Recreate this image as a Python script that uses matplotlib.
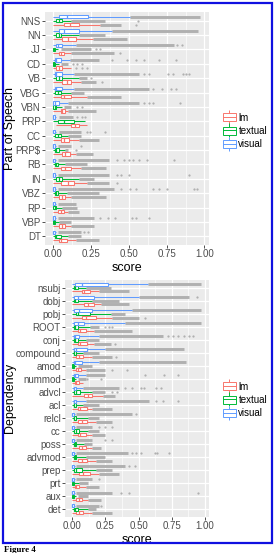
import numpy as np
import matplotlib
matplotlib.use("Agg")
import matplotlib.pyplot as plt
from matplotlib.patches import Rectangle, Patch
from matplotlib.lines import Line2D

# part of speech panel
pos_cats = ["NNS", "NN", "JJ", "CD", "VB", "VBG", "VBN", "PRP", "CC", "PRP$",
            "RB", "IN", "VBZ", "RP", "VBP", "DT"]

# [whisker low, q1, median, q3, whisker high]
pos_visual_box = [[0, 0.04, 0.09, 0.23, 0.51], [0, 0.04, 0.07, 0.17, 0.39],
                  [0, 0.02, 0.03, 0.06, 0.15], [0, 0.01, 0.02, 0.05, 0.11],
                  [0, 0.01, 0.02, 0.06, 0.14], [0, 0.01, 0.02, 0.06, 0.14],
                  [0, 0.0, 0.01, 0.04, 0.10], [0, 0, 0, 0.01, 0.02],
                  [0, 0, 0, 0.01, 0.02], [0, 0, 0, 0.01, 0.02],
                  [0, 0, 0, 0.01, 0.02], [0, 0, 0, 0.01, 0.02],
                  [0, 0, 0, 0.01, 0.02], [0, 0, 0, 0.01, 0.02],
                  [0, 0, 0, 0.01, 0.02], [0, 0, 0, 0.01, 0.02]]
pos_visual_dense = [[0.51, 0.97], [0.39, 0.96], [0.15, 0.80], [0.11, 0.30],
                    [0.14, 0.57], [0.14, 0.63], [0.10, 0.57], [0.04, 0.13],
                    [0.04, 0.18], [0.03, 0.12], [0.03, 0.37], [0.03, 0.37],
                    [0.03, 0.40], [0.03, 0.15], [0.03, 0.27], [0.03, 0.18]]
pos_visual_pts = [[], [], [0.82, 0.85], [0.39, 0.49, 0.55, 0.60, 0.70, 0.81],
                  [0.60, 0.63, 0.76, 0.79, 0.86, 0.88, 0.90],
                  [0.66, 0.72, 0.78, 0.81], [0.60, 0.63, 0.66, 0.84],
                  [0.16, 0.19, 0.21], [0.22, 0.24, 0.34], [0.18],
                  [0.42, 0.47, 0.50, 0.53, 0.57, 0.62, 0.80], [0.42, 0.45, 0.50, 0.90],
                  [0.45, 0.51, 0.55, 0.66, 0.70, 0.75, 0.93, 0.95], [],
                  [0.31, 0.36, 0.41, 0.52, 0.55, 0.63], [0.20, 0.23]]

pos_textual_box = [[0, 0.02, 0.04, 0.06, 0.12], [0, 0.02, 0.035, 0.05, 0.17],
                   [0, 0, 0.005, 0.01, 0.03], [0, 0, 0.005, 0.01, 0.04],
                   [0, 0.02, 0.035, 0.06, 0.17], [0, 0.01, 0.03, 0.05, 0.12],
                   [0, 0, 0.01, 0.02, 0.06], [0, 0.03, 0.07, 0.14, 0.21],
                   [0, 0.01, 0.03, 0.05, 0.10], [0, 0.01, 0.02, 0.04, 0.08],
                   [0, 0.01, 0.02, 0.03, 0.08], [0, 0.02, 0.04, 0.06, 0.17],
                   [0, 0.01, 0.02, 0.03, 0.09], [0, 0, 0.01, 0.02, 0.06],
                   [0, 0, 0.005, 0.01, 0.04], [0, 0.01, 0.02, 0.05, 0.10]]
pos_textual_dense = [[0.12, 0.34], [0.17, 0.34], [0.05, 0.25], [0.05, 0.10],
                     [0.17, 0.22], [0.12, 0.20], [0.07, 0.12], None,
                     [0.10, 0.18], [0.08, 0.10], [0.08, 0.22], [0.17, 0.27],
                     [0.09, 0.30], [0.06, 0.16], [0.04, 0.12], [0.10, 0.18]]
pos_textual_pts = [[0.56], [], [0.28, 0.31], [0.13, 0.16, 0.19], [0.25], [],
                   [0.16, 0.19], [], [], [0.15], [], [], [], [], [], []]

pos_lm_box = [[0, 0.07, 0.11, 0.17, 0.31], [0, 0.06, 0.10, 0.15, 0.26],
              [0, 0.035, 0.05, 0.07, 0.12], [0, 0.02, 0.04, 0.06, 0.12],
              [0, 0.06, 0.09, 0.12, 0.18], [0, 0.05, 0.07, 0.12, 0.22],
              [0, 0.05, 0.06, 0.08, 0.10], [0.02, 0.12, 0.145, 0.17, 0.22],
              [0, 0.05, 0.07, 0.105, 0.17], [0, 0.06, 0.08, 0.11, 0.15],
              [0, 0.05, 0.08, 0.12, 0.18], [0, 0.05, 0.10, 0.14, 0.22],
              [0, 0.04, 0.06, 0.08, 0.12], [0, 0.03, 0.05, 0.07, 0.10],
              [0, 0.035, 0.06, 0.08, 0.12], [0, 0.035, 0.05, 0.09, 0.15]]
pos_lm_dense = [[0.31, 0.45], [0.26, 0.49], [0.12, 0.40], None, [0.18, 0.28],
                [0.22, 0.45], [0.10, 0.28], None, [0.17, 0.30], [0.15, 0.26],
                [0.18, 0.35], [0.22, 0.37], [0.12, 0.35], [0.10, 0.17],
                [0.12, 0.27], [0.15, 0.30]]
pos_lm_pts = [[0.55], [], [0.44], [0.15, 0.19, 0.22], [0.32], [], [], [], [], [],
              [0.27], [0.42], [], [], [], []]

# dependency panel
dep_cats = ["nsubj", "dobj", "pobj", "ROOT", "conj", "compound", "amod", "nummod",
            "advcl", "acl", "relcl", "cc", "poss", "advmod", "prep", "prt", "aux", "det"]

dep_visual_box = [[0, 0.02, 0.075, 0.27, 0.57], [0, 0.015, 0.045, 0.165, 0.50],
                  [0, 0.015, 0.05, 0.15, 0.45], [0, 0.015, 0.04, 0.09, 0.40],
                  [0, 0.01, 0.02, 0.05, 0.20], [0, 0.01, 0.03, 0.11, 0.25],
                  [0, 0.01, 0.02, 0.07, 0.20], [0, 0.01, 0.02, 0.04, 0.10],
                  [0, 0.01, 0.015, 0.03, 0.08], [0, 0.01, 0.015, 0.03, 0.10],
                  [0, 0, 0, 0.01, 0.02], [0, 0, 0, 0.01, 0.02], [0, 0, 0, 0.01, 0.02],
                  [0, 0, 0, 0.01, 0.02], [0, 0, 0, 0.01, 0.02], [0, 0, 0, 0.01, 0.02],
                  [0, 0, 0, 0.01, 0.02], [0, 0, 0, 0.01, 0.02]]
dep_visual_dense = [[0.57, 0.97], [0.50, 0.88], [0.45, 0.97], [0.40, 0.97],
                    [0.20, 0.68], [0.25, 0.84], [0.20, 0.86], [0.10, 0.25],
                    [0.08, 0.35], [0.10, 0.58], [0.03, 0.45], [0.03, 0.15],
                    [0.03, 0.15], [0.03, 0.42], [0.03, 0.40], [0.03, 0.15],
                    [0.03, 0.30], [0.03, 0.20]]
dep_visual_pts = [[], [0.94], [], [], [0.72, 0.76, 0.80, 0.84, 0.88, 0.91], [], [],
                  [0.55, 0.69, 0.80], [0.40, 0.45, 0.52, 0.54, 0.63, 0.67],
                  [0.63, 0.68, 0.80], [0.48], [0.20, 0.25, 0.30], [0.25, 0.30],
                  [0.45, 0.48, 0.52, 0.62, 0.64, 0.73], [0.43, 0.47], [0.20],
                  [0.37, 0.43, 0.95], [0.22]]

dep_textual_box = [[0, 0.01, 0.02, 0.04, 0.10], [0, 0.01, 0.02, 0.04, 0.15],
                   [0, 0.03, 0.045, 0.13, 0.29], [0, 0.01, 0.02, 0.04, 0.13],
                   [0, 0.01, 0.02, 0.04, 0.10], [0, 0.01, 0.015, 0.03, 0.08],
                   [0, 0, 0.005, 0.01, 0.03], [0, 0, 0.005, 0.01, 0.03],
                   [0, 0.01, 0.03, 0.06, 0.15], [0, 0.01, 0.015, 0.03, 0.08],
                   [0, 0.01, 0.015, 0.03, 0.12], [0, 0.01, 0.03, 0.05, 0.12],
                   [0, 0.01, 0.02, 0.03, 0.09], [0, 0.01, 0.02, 0.03, 0.10],
                   [0, 0.01, 0.03, 0.075, 0.18], [0, 0, 0.005, 0.01, 0.05],
                   [0, 0, 0.005, 0.01, 0.03], [0, 0.01, 0.02, 0.04, 0.12]]
dep_textual_dense = [[0.10, 0.29], [0.15, 0.35], [0.29, 0.40], [0.13, 0.20],
                     [0.10, 0.20], [0.08, 0.20], [0.04, 0.15], [0.04, 0.10],
                     [0.15, 0.25], [0.08, 0.20], [0.12, 0.20], [0.12, 0.20],
                     [0.09, 0.15], [0.10, 0.25], [0.18, 0.30], [0.05, 0.12],
                     [0.04, 0.12], [0.12, 0.18]]
dep_textual_pts = [[], [], [], [0.25, 0.28, 0.30], [], [], [], [0.11, 0.22],
                   [0.30, 0.34], [], [], [], [], [], [], [], [], []]

dep_lm_box = [[0, 0.075, 0.09, 0.135, 0.20], [0, 0.09, 0.12, 0.165, 0.22],
              [0, 0.07, 0.10, 0.18, 0.30], [0, 0.04, 0.06, 0.10, 0.16],
              [0, 0.04, 0.06, 0.11, 0.16], [0, 0.03, 0.05, 0.08, 0.15],
              [0, 0.03, 0.04, 0.065, 0.10], [0, 0.02, 0.03, 0.05, 0.08],
              [0, 0.09, 0.12, 0.15, 0.23], [0, 0.04, 0.06, 0.11, 0.15],
              [0, 0.045, 0.07, 0.11, 0.18], [0, 0.04, 0.06, 0.10, 0.15],
              [0, 0.05, 0.07, 0.10, 0.15], [0, 0.04, 0.07, 0.11, 0.18],
              [0, 0.05, 0.08, 0.13, 0.20], [0, 0.02, 0.03, 0.05, 0.10],
              [0, 0.03, 0.05, 0.07, 0.12], [0, 0.03, 0.05, 0.08, 0.15]]
dep_lm_dense = [[0.20, 0.43], [0.22, 0.43], [0.30, 0.50], [0.16, 0.45],
                [0.16, 0.29], [0.15, 0.30], [0.10, 0.25], None, [0.23, 0.32],
                [0.15, 0.30], [0.18, 0.30], [0.15, 0.25], [0.15, 0.22],
                [0.18, 0.30], [0.20, 0.35], [0.10, 0.20], [0.12, 0.22], [0.15, 0.30]]
dep_lm_pts = [[], [], [0.55], [], [0.32], [0.33], [0.30, 0.41], [], [], [], [], [],
              [], [], [], [], [], []]

models = ["lm", "textual", "visual"]
colors = {"lm": "#F8766D", "textual": "#00BA38", "visual": "#619CFF"}
offsets = {"visual": 0.28, "textual": 0.0, "lm": -0.28}

W, H = 274, 553
plt.rcParams["font.family"] = ["Liberation Sans", "DejaVu Sans"]
fig = plt.figure(figsize=(W / 100, H / 100), dpi=100)


def px_axes(left, top, right, bottom):
    return fig.add_axes([left / W, 1 - bottom / H, (right - left) / W, (bottom - top) / H])


def draw_panel(ax, cats, data):
    n = len(cats)
    ypos = np.arange(n)[::-1]
    h = 0.25
    grey = "#B0B0B0"
    for m in ["lm", "textual", "visual"]:
        boxes, dense, pts = data[m]
        c = colors[m]
        for i in range(n):
            y = ypos[i] + offsets[m]
            lo, q1, med, q3, hi = boxes[i]
            if dense[i] is not None:
                ax.hlines(y, dense[i][0], dense[i][1], color=grey, lw=2.1, zorder=2)
            if pts[i]:
                ax.scatter(pts[i], [y] * len(pts[i]), s=2.6, color=grey, lw=0, zorder=2)
            ax.hlines(y, lo, q1, color=c, lw=0.75, zorder=3)
            ax.hlines(y, q3, hi, color=c, lw=0.75, zorder=3)
            ax.barh(y, q3 - q1, left=q1, height=h, facecolor="white",
                    edgecolor=c, lw=0.75, zorder=4)
            ax.vlines(med, y - h / 2, y + h / 2, color=c, lw=0.9, zorder=5)

    ax.set_facecolor("#EBEBEB")
    ax.set_xlim(-0.055, 1.03)
    ax.set_ylim(-0.6, n - 1 + 0.6)
    ax.set_yticks(ypos)
    ax.set_yticklabels(cats)
    ax.set_xticks([0, 0.25, 0.5, 0.75, 1.0])
    ax.set_xticklabels(["0.00", "0.25", "0.50", "0.75", "1.00"])
    ax.set_xticks([0.125, 0.375, 0.625, 0.875], minor=True)
    ax.grid(True, which="major", color="white", lw=0.9, zorder=0)
    ax.grid(True, which="minor", axis="x", color="white", lw=0.45, zorder=0)
    ax.set_axisbelow(True)
    for s in ax.spines.values():
        s.set_visible(False)
    ax.tick_params(which="major", length=2, width=0.6, color="#333333",
                   labelcolor="#4D4D4D", labelsize=7, pad=1)
    ax.tick_params(which="minor", length=0)


def add_legend(ycenter):
    handles = []
    for m in models:
        c = colors[m]
        handles.append((Line2D([], [], marker="|", markersize=10, mew=0.7, ls="none", color=c),
                        Patch(facecolor="white", edgecolor=c, lw=0.7),
                        Line2D([], [], color=c, lw=0.7)))
    fig.legend(handles, models, loc="center left",
               bbox_to_anchor=(219 / W, 1 - ycenter / H), frameon=False,
               fontsize=7, handlelength=1.3, handleheight=0.9,
               labelspacing=0.35, handletextpad=0.3, borderaxespad=0)


ax1 = px_axes(45, 12, 209, 245)
draw_panel(ax1, pos_cats, {"visual": (pos_visual_box, pos_visual_dense, pos_visual_pts),
                           "textual": (pos_textual_box, pos_textual_dense, pos_textual_pts),
                           "lm": (pos_lm_box, pos_lm_dense, pos_lm_pts)})
ax1.set_xlabel("score", fontsize=9, labelpad=2)
fig.text(10 / W, 1 - 128 / H, "Part of Speech", rotation=90, fontsize=9,
         ha="center", va="center")
add_legend(131)

ax2 = px_axes(65, 280, 209, 517)
draw_panel(ax2, dep_cats, {"visual": (dep_visual_box, dep_visual_dense, dep_visual_pts),
                           "textual": (dep_textual_box, dep_textual_dense, dep_textual_pts),
                           "lm": (dep_lm_box, dep_lm_dense, dep_lm_pts)})
ax2.set_xlabel("score", fontsize=9, labelpad=2)
fig.text(10 / W, 1 - 398 / H, "Dependency", rotation=90, fontsize=9,
         ha="center", va="center")
add_legend(400)

# blue frame and caption
fig.patches.append(Rectangle((2.5 / W, 1 - 543 / H), 269 / W, 540.5 / H,
                             transform=fig.transFigure, fill=False,
                             edgecolor="#1010E0", lw=1.6))
fig.text(4 / W, 1 - 545.5 / H, "Figure 4", fontsize=6.5, family="Liberation Serif",
         weight="bold", ha="left", va="top")

fig.savefig("out.png", dpi=100)
